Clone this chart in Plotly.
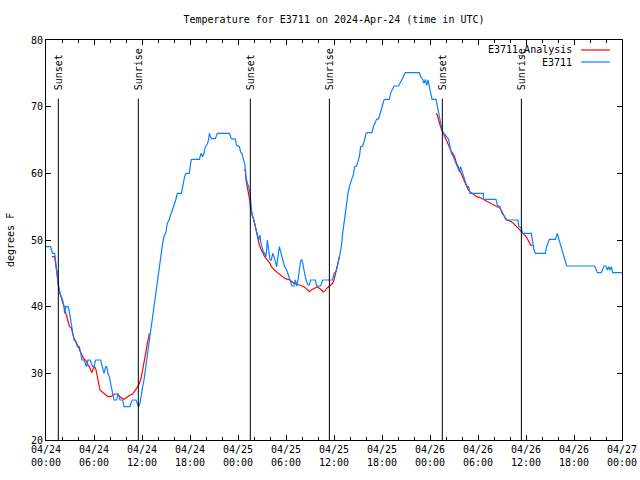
import plotly.graph_objects as go

# ---------------- data (hours since 2024-04-24 00:00 UTC, degrees F) ----------------
obs_hours = [0.0, 0.58, 0.67, 0.83, 1.08, 1.17, 1.29, 1.42, 1.58, 1.75, 1.92, 2.08, 2.25, 2.33, 2.46, 2.75,
             2.88, 3.0, 3.17, 3.33, 3.5, 3.71, 3.92, 4.17, 4.33, 4.5, 4.75, 4.96, 5.08, 5.25, 5.5, 5.67,
             5.83, 6.0, 6.21, 6.83, 7.04, 7.25, 7.46, 7.58, 7.75, 7.92, 8.08, 8.29, 8.5, 8.83, 9.0, 9.25,
             9.58, 9.75, 10.5, 10.67, 10.83, 11.25, 11.42, 11.58, 11.75, 11.92, 12.08, 12.25, 12.42, 12.58,
             12.75, 12.92, 13.08, 13.25, 13.42, 13.58, 13.75, 13.92, 14.08, 14.25, 14.42, 14.58, 14.75, 15.0,
             15.17, 15.38, 15.58, 15.75, 16.0, 16.21, 16.42, 16.92, 17.08, 17.33, 17.5, 17.92, 18.08, 18.17,
             19.17, 19.38, 19.58, 19.75, 19.92, 20.17, 20.33, 20.42, 20.67, 21.17, 21.42, 22.92, 23.17, 23.67,
             23.83, 24.17, 24.33, 24.5, 24.67, 24.83, 24.92, 25.0, 25.17, 25.33, 25.5, 25.63, 25.75, 25.92,
             26.08, 26.25, 26.42, 26.58, 26.75, 26.83, 27.0, 27.17, 27.33, 27.5, 27.67, 27.83, 28.0, 28.17,
             28.33, 28.5, 28.67, 28.83, 29.0, 29.17, 29.33, 29.5, 29.67, 29.83, 30.08, 30.33, 30.5, 30.75,
             31.0, 31.17, 31.33, 31.5, 31.67, 31.83, 32.0, 32.17, 32.33, 32.5, 32.75, 32.92, 33.08, 33.67,
             33.83, 34.33, 34.58, 35.83, 36.0, 36.25, 36.42, 36.58, 36.75, 36.92, 37.08, 37.25, 37.42, 37.58,
             37.75, 37.92, 38.08, 38.25, 38.42, 38.58, 38.83, 39.0, 39.17, 39.33, 39.58, 39.83, 40.0, 40.17,
             40.75, 40.92, 41.17, 41.33, 41.58, 41.75, 41.92, 42.08, 42.25, 42.42, 42.92, 43.08, 43.25, 43.5,
             44.08, 44.25, 44.42, 44.67, 44.92, 46.67, 46.83, 47.08, 47.25, 47.42, 47.58, 47.75, 47.92, 48.08,
             48.25, 48.75, 48.92, 49.08, 49.25, 49.42, 49.58, 49.75, 50.08, 50.33, 50.5, 50.67, 50.92, 51.08,
             51.25, 51.5, 51.67, 51.83, 52.0, 52.17, 52.33, 52.58, 52.83, 53.0, 54.67, 54.68, 56.25, 56.42,
             56.75, 57.0, 57.33, 57.5, 59.0, 59.08, 59.42, 59.58, 60.67, 60.83, 61.0, 61.17, 62.42, 62.58,
             62.75, 62.92, 63.67, 63.92, 64.08, 64.25, 64.42, 64.58, 64.75, 64.92, 65.08, 68.58, 68.75, 68.92,
             69.42, 69.58, 69.75, 70.0, 70.17, 70.33, 70.5, 70.67, 70.83, 72.0]
obs_temps = [49.0, 49.0, 48.5, 48.0, 48.0, 47.0, 46.0, 44.5, 43.0, 42.0, 41.5, 41.0, 40.0, 39.0, 40.0, 40.0,
             39.5, 38.5, 37.0, 36.0, 35.0, 34.75, 34.0, 34.0, 33.0, 32.0, 32.0, 31.5, 31.0, 32.0, 32.0, 31.5,
             31.0, 31.0, 32.0, 32.0, 31.0, 30.0, 31.0, 31.0, 30.0, 29.5, 28.5, 27.0, 26.0, 26.0, 27.0, 26.0,
             26.0, 25.0, 25.0, 25.75, 26.0, 26.0, 25.5, 25.0, 25.5, 27.0, 28.0, 29.0, 30.5, 32.0,
             33.5, 35.0, 36.5, 38.0, 39.5, 41.0, 42.5, 44.0, 45.5, 47.0, 48.5, 49.5, 50.5, 51.25,
             52.5, 53.0, 53.75, 54.5, 55.25, 56.0, 57.0, 57.0, 58.0, 59.5, 60.0, 60.0, 61.5, 62.1,
             62.1, 63.0, 62.5, 63.0, 64.0, 64.4, 65.1, 66.0, 65.2, 65.2, 66.0, 66.0, 65.2, 65.1,
             64.2, 64.0, 63.2, 62.9, 62.1, 61.5, 60.6, 59.5, 58.5, 58.0, 57.0, 55.5, 53.75, 53.25,
             52.5, 51.5, 50.75, 50.0, 50.75, 49.75, 49.0, 48.25, 48.0, 47.5, 50.0, 48.5, 47.0, 47.0,
             48.0, 47.5, 46.5, 46.0, 47.5, 49.0, 48.25, 47.5, 46.75, 46.0, 45.5, 44.75, 44.0, 43.1,
             43.1, 44.0, 43.1, 44.0, 46.0, 46.9, 47.0, 46.0, 45.0, 44.0, 43.25, 43.25, 44.0, 44.0,
             43.1, 43.1, 44.0, 44.0, 45.0, 45.25, 46.0, 47.0, 47.5, 49.0, 51.0, 52.5, 54.5, 56.0,
             57.0, 58.0, 58.75, 59.25, 59.75, 61.0, 61.1, 62.0, 62.5, 64.0, 64.1, 65.0, 66.0, 66.1,
             66.1, 67.0, 67.75, 68.1, 68.2, 69.0, 69.5, 70.25, 71.0, 71.1, 71.1, 72.0, 72.5, 73.1,
             73.1, 73.5, 74.1, 74.5, 75.1, 75.1, 74.5, 74.1, 73.5, 74.1, 73.2, 74.0, 73.0, 72.0,
             71.1, 71.1, 70.0, 68.75, 67.75, 67.0, 66.25, 66.0, 65.4, 65.1, 64.0, 63.0, 62.5, 62.0,
             61.5, 60.5, 60.25, 61.0, 60.25, 59.5, 59.0, 58.1, 58.0, 57.0, 57.0, 56.1, 56.1, 55.2,
             55.0, 54.0, 53.5, 53.0, 53.0, 52.1, 51.8, 51.0, 51.0, 49.5, 48.5, 48.0, 48.0, 49.0,
             49.5, 50.1, 50.1, 51.0, 50.25, 49.5, 48.75, 48.0, 47.25, 46.5, 46.1, 46.1, 45.6, 45.1,
             45.1, 45.6, 46.1, 46.1, 45.5, 46.0, 45.5, 46.0, 45.1, 45.1]

ana_hours = [0.75, 1.08, 1.25, 1.42, 1.58, 1.75, 1.92, 2.08, 2.25, 2.42, 2.58, 2.75, 2.92, 3.17, 3.33, 3.5,
             3.75, 3.92, 4.08, 4.25, 4.42, 4.67, 4.92, 5.08, 5.25, 5.42, 5.58, 5.75, 5.92, 6.08, 6.25, 6.42,
             6.58, 6.75, 7.0, 7.25, 7.5, 7.75, 8.08, 8.33, 8.58, 8.92, 9.17, 9.42, 9.75, 10.0, 10.25, 10.5,
             10.83, 11.08, 11.33, 11.58, 11.83, 12.0, 12.17, 12.33, 12.5, 12.67, 12.83, 12.92,
             None,
             24.75, 24.92, 25.0, 25.17, 25.33, 25.5, 25.58, 25.75, 25.92, 26.08, 26.25, 26.42, 26.58, 26.67,
             26.83, 27.0, 27.17, 27.33, 27.5, 27.67, 27.83, 28.0, 28.17, 28.42, 28.67, 28.92, 29.17, 29.42,
             29.67, 29.92, 30.25, 30.5, 30.75, 31.0, 31.33, 31.67, 32.0, 32.25, 32.5, 32.75, 32.92, 33.17,
             33.42, 33.67, 33.92, 34.17, 34.42, 34.67, 34.92, 35.08, 35.33, 35.58, 35.83, 36.0, 36.17, 36.33,
             36.5, 36.67,
             None,
             48.75, 48.92, 49.08, 49.25, 49.42, 49.58, 49.75, 50.0, 50.25, 50.42, 50.58, 50.83, 51.08, 51.25,
             51.42, 51.67, 51.83, 52.0, 52.17, 52.33, 52.5, 52.75, 53.0, 53.25, 53.5, 53.83, 54.17, 54.5,
             54.83, 55.08, 55.42, 55.75, 56.08, 56.42, 56.75, 57.0, 57.17, 57.42, 57.67, 57.92, 58.17, 58.42,
             58.67, 58.92, 59.17, 59.42, 59.67, 60.0, 60.25, 60.42, 60.58, 60.83]
ana_temps = [47.5, 47.5, 46.0, 44.0, 43.0, 42.0, 41.4, 40.75, 40.0, 39.25, 38.5, 37.75, 37.1, 36.75, 36.0, 35.25,
             34.75, 34.25, 34.0, 33.5, 32.75, 32.25, 32.0, 31.75, 31.25, 31.0, 30.5, 30.1, 30.75, 31.0, 30.5, 29.5,
             28.5, 27.5, 27.25, 27.0, 26.75, 26.5, 26.5, 26.7, 26.9, 26.9, 26.6, 26.3, 26.1, 26.3, 26.6, 26.75,
             26.9, 27.25, 27.75, 28.25, 29.0, 30.0, 31.0, 32.25, 33.25, 34.5, 35.75, 36.0,
             None,
             60.5, 60.4, 59.0, 58.0, 57.0, 55.75, 54.75, 53.75, 53.25, 52.5, 51.5, 50.75, 50.0, 49.25,
             48.75, 48.25, 48.0, 47.5, 47.25, 47.0, 46.6, 46.5, 46.0, 45.75, 45.4, 45.1, 44.9, 44.6,
             44.4, 44.2, 44.1, 44.0, 43.75, 43.5, 43.4, 43.25, 43.2, 43.0, 42.75, 42.4, 42.25, 42.5,
             42.7, 42.9, 43.0, 42.75, 42.5, 42.25, 42.4, 42.75, 43.0, 43.25, 43.5, 44.0, 45.0, 46.0,
             46.75, 47.5,
             None,
             69.0, 68.75, 68.0, 67.25, 66.6, 66.25, 65.75, 65.25, 64.5, 64.0, 63.5, 63.0, 62.5, 61.75,
             61.25, 60.75, 60.25, 59.75, 59.25, 58.75, 58.25, 57.6, 57.25, 57.0, 56.75, 56.5, 56.4, 56.2,
             56.0, 55.8, 55.6, 55.4, 55.2, 55.0, 54.75, 54.25, 53.75, 53.25, 53.0, 52.9, 52.75, 52.5,
             52.25, 51.9, 51.6, 51.25, 51.0, 50.5, 50.0, 49.5, 49.25, 49.15]

sun_hours = [1.54, 11.54, 25.54, 35.42, 49.54, 59.42]
sun_labels = ["Sunset", "Sunrise", "Sunset", "Sunrise", "Sunset", "Sunrise"]

x_tick_hours = [0, 6, 12, 18, 24, 30, 36, 42, 48, 54, 60, 66, 72]
x_tick_labels = ["04/24<br>00:00", "04/24<br>06:00", "04/24<br>12:00", "04/24<br>18:00",
                 "04/25<br>00:00", "04/25<br>06:00", "04/25<br>12:00", "04/25<br>18:00",
                 "04/26<br>00:00", "04/26<br>06:00", "04/26<br>12:00", "04/26<br>18:00",
                 "04/27<br>00:00"]
y_ticks = [20, 30, 40, 50, 60, 70, 80]

series_names = ["E3711_Analysis", "E3711"]
series_colors = ["#ff0000", "#0a80ff"]

FONT = "DejaVu Sans Mono"

# ---------------- figure ----------------
fig = go.Figure()
fig.add_trace(go.Scatter(x=ana_hours, y=ana_temps, mode="lines", name=series_names[0],
                         line=dict(color=series_colors[0], width=1.2), connectgaps=False))
fig.add_trace(go.Scatter(x=obs_hours, y=obs_temps, mode="lines", name=series_names[1],
                         line=dict(color=series_colors[1], width=1.2)))

shapes = []
annotations = []
for h, lab in zip(sun_hours, sun_labels):
    shapes.append(dict(type="line", xref="x", yref="y", x0=h, x1=h, y0=20, y1=71.2,
                       line=dict(color="black", width=1)))
    annotations.append(dict(x=h, y=72.2, xref="x", yref="y", text=lab, textangle=-90,
                            showarrow=False, xanchor="center", yanchor="bottom",
                            font=dict(family=FONT, size=10, color="black")))

# legend drawn gnuplot-style (text on the left, sample on the right)
leg_rows = [0.975, 0.945]
for name, col, yy in zip(series_names, series_colors, leg_rows):
    annotations.append(dict(x=0.9167, y=yy, xref="paper", yref="paper", text=name, showarrow=False,
                            xanchor="right", yanchor="middle",
                            font=dict(family=FONT, size=10, color="black")))
    shapes.append(dict(type="line", xref="paper", yref="paper", x0=0.929, x1=0.979, y0=yy, y1=yy,
                       line=dict(color=col, width=1.2)))

annotations.append(dict(x=-0.0625, y=0.5, xref="paper", yref="paper", text="degrees F",
                        textangle=-90, showarrow=False, xanchor="center", yanchor="middle",
                        font=dict(family=FONT, size=10, color="black")))

fig.update_layout(
    width=640, height=480,
    margin=dict(l=46, r=18, t=40, b=40, autoexpand=False),
    paper_bgcolor="white", plot_bgcolor="white",
    showlegend=False,
    font=dict(family=FONT, size=10, color="black"),
    title=dict(text="Temperature for E3711 on 2024-Apr-24 (time in UTC)", x=0.5, xref="paper",
               y=1 - 19 / 480, yref="container", xanchor="center", yanchor="middle",
               font=dict(family=FONT, size=10, color="black")),
    shapes=shapes, annotations=annotations,
)
fig.update_xaxes(range=[0, 72], tickvals=x_tick_hours, ticktext=x_tick_labels, automargin=False,
                 showgrid=False, zeroline=False, showline=True, linecolor="black", linewidth=1,
                 mirror="ticks", ticks="inside", ticklen=5, tickcolor="black",
                 minor=dict(dtick=2, tick0=0, ticks="inside", ticklen=3, tickcolor="black", showgrid=False),
                 tickfont=dict(family=FONT, size=10, color="black"))
fig.update_yaxes(range=[20, 80], tickvals=y_ticks, showgrid=False, zeroline=False, automargin=False,
                 showline=True, linecolor="black", linewidth=1, mirror="ticks",
                 ticks="inside", ticklen=5, tickcolor="black",
                 tickfont=dict(family=FONT, size=10, color="black"))

fig.write_html("out.html", config={"displayModeBar": False},
               post_script="document.body.style.margin='0';")
